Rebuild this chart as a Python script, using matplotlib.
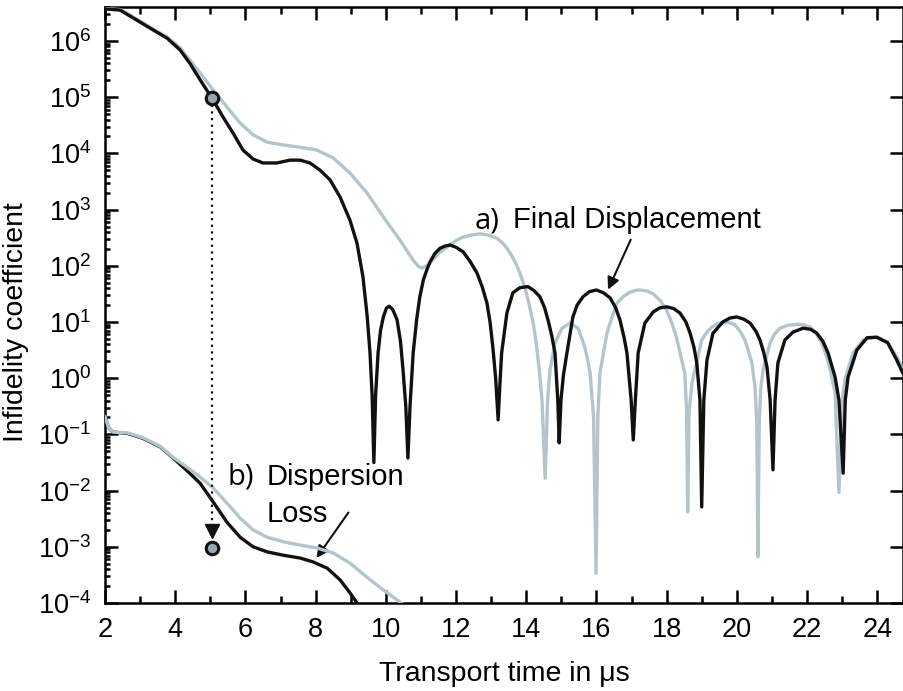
import numpy as np
import matplotlib
matplotlib.use("Agg")
import matplotlib.pyplot as plt
from matplotlib.ticker import MultipleLocator, LogLocator, NullFormatter

plt.rcParams['font.family'] = ['Liberation Sans', 'DejaVu Sans']
plt.rcParams['mathtext.fontset'] = 'custom'
plt.rcParams['mathtext.rm'] = 'Liberation Sans'
plt.rcParams['mathtext.it'] = 'Liberation Sans:italic'
plt.rcParams['axes.unicode_minus'] = False

# ---- data: transport time (microseconds) and log10 of infidelity coefficient ----
disp_black_t = [2.0, 2.43, 2.8, 3.28, 3.77, 4.14, 4.42, 4.71, 5.08, 5.36, 5.65, 5.93, 6.22, 6.5,
                6.9, 7.27, 7.56, 7.84, 8.13, 8.41, 8.7, 8.98, 9.18, 9.35, 9.47, 9.55, 9.61, 9.66,
                9.71, 9.78, 9.85, 9.93, 10.02, 10.1, 10.2, 10.32, 10.42, 10.49, 10.57, 10.63,
                10.69, 10.78, 10.88, 10.97, 11.07, 11.17, 11.26, 11.4, 11.54, 11.68, 11.83, 12.0,
                12.2, 12.4, 12.6, 12.75, 12.88, 12.97, 13.05, 13.13, 13.2, 13.26, 13.3, 13.45,
                13.62, 13.82, 14.05, 14.22, 14.39, 14.52, 14.62, 14.73, 14.82, 14.9, 14.94,
                14.99, 15.06, 15.16, 15.33, 15.45, 15.62, 15.8, 16.0, 16.2, 16.39, 16.55, 16.67,
                16.79, 16.87, 16.99, 17.05, 17.11, 17.19, 17.38, 17.62, 17.8, 18.0, 18.2, 18.38,
                18.55, 18.67, 18.78, 18.86, 18.95, 19.0, 19.06, 19.15, 19.32, 19.6, 19.8, 20.0,
                20.2, 20.38, 20.55, 20.66, 20.77, 20.86, 20.95, 21.03, 21.09, 21.17, 21.37, 21.6,
                21.89, 22.1, 22.28, 22.45, 22.6, 22.8, 22.91, 23.03, 23.09, 23.17, 23.42, 23.71,
                23.99, 24.3, 24.56, 24.73]
disp_black_log = [6.57, 6.55, 6.41, 6.23, 6.05, 5.84, 5.60, 5.31, 4.95, 4.65, 4.36, 4.06, 3.90,
                  3.83, 3.83, 3.88, 3.88, 3.83, 3.70, 3.53, 3.22, 2.81, 2.40, 1.80, 1.10, 0.45,
                  -0.30, -1.50, -0.30, 0.45, 0.85, 1.09, 1.25, 1.28, 1.22, 1.04, 0.65, 0.15, -0.50,
                  -1.42, -0.50, 0.45, 1.05, 1.45, 1.75, 1.93, 2.07, 2.22, 2.31, 2.35, 2.37, 2.33,
                  2.25, 2.08, 1.87, 1.62, 1.34, 1.00, 0.55, 0.00, -0.74, 0.00, 0.45, 1.16, 1.52,
                  1.61, 1.63, 1.56, 1.45, 1.26, 1.04, 0.75, 0.45, -0.39, -1.15, -0.39, 0.05, 0.45,
                  1.09, 1.30, 1.45, 1.54, 1.57, 1.52, 1.43, 1.25, 1.04, 0.72, 0.45, -0.39, -1.10,
                  -0.39, 0.45, 0.98, 1.18, 1.25, 1.27, 1.24, 1.16, 1.00, 0.80, 0.55, 0.27, -0.39,
                  -2.29, -0.39, 0.32, 0.80, 1.00, 1.07, 1.09, 1.05, 0.98, 0.83, 0.68, 0.45, 0.20,
                  -0.39, -1.63, -0.39, 0.27, 0.68, 0.82, 0.89, 0.87, 0.80, 0.66, 0.45, 0.02, -0.39,
                  -1.69, -0.39, 0.02, 0.50, 0.72, 0.73, 0.63, 0.32, 0.09]

disp_grey_t = [2.0, 2.43, 2.8, 3.05, 3.28, 3.52, 3.77, 4.14, 4.42, 4.71, 5.08, 5.47, 5.85, 6.22,
               6.62, 7.08, 7.56, 8.03, 8.5, 8.98, 9.46, 9.93, 10.4, 10.78, 10.93, 11.03, 11.13,
               11.26, 11.5, 11.74, 12.0, 12.2, 12.45, 12.68, 12.9, 13.17, 13.37, 13.54, 13.7,
               13.82, 13.97, 14.1, 14.21, 14.3, 14.38, 14.45, 14.54, 14.61, 14.68, 14.82, 15.02,
               15.25, 15.48, 15.67, 15.76, 15.82, 15.92, 15.99, 16.04, 16.1, 16.3, 16.45, 16.59,
               16.78, 16.96, 17.1, 17.24, 17.45, 17.62, 17.82, 18.0, 18.15, 18.28, 18.42, 18.52,
               18.57, 18.6, 18.64, 18.72, 18.81, 19.0, 19.15, 19.29, 19.45, 19.6, 19.78, 19.95,
               20.1, 20.23, 20.35, 20.43, 20.52, 20.57, 20.6, 20.64, 20.68, 20.75, 20.95, 21.08,
               21.23, 21.45, 21.72, 21.9, 22.09, 22.26, 22.42, 22.55, 22.66, 22.8, 22.91, 23.0,
               23.08, 23.31, 23.6, 23.94, 24.28, 24.56, 24.73]
disp_grey_log = [6.58, 6.56, 6.43, 6.34, 6.25, 6.16, 6.07, 5.88, 5.66, 5.43, 5.13, 4.83, 4.54,
                 4.33, 4.20, 4.15, 4.11, 4.06, 3.92, 3.65, 3.30, 2.87, 2.46, 2.10, 1.99, 1.96,
                 1.99, 2.05, 2.22, 2.33, 2.45, 2.51, 2.55, 2.57, 2.55, 2.49, 2.38, 2.23, 2.05,
                 1.87, 1.60, 1.27, 0.95, 0.55, 0.10, -0.39, -1.78, -0.39, 0.15, 0.63, 0.89, 0.98,
                 0.89, 0.55, 0.30, 0.09, -0.70, -3.47, -0.70, 0.09, 0.80, 1.10, 1.34, 1.46, 1.53,
                 1.56, 1.57, 1.55, 1.50, 1.38, 1.21, 0.98, 0.73, 0.35, 0.09, -0.60, -2.38, -0.60,
                 -0.10, 0.15, 0.68, 0.82, 0.91, 0.97, 1.00, 0.99, 0.95, 0.83, 0.68, 0.45, 0.27,
                 -0.16, -0.80, -3.18, -0.80, -0.20, 0.15, 0.63, 0.79, 0.89, 0.94, 0.96, 0.95, 0.91,
                 0.80, 0.63, 0.40, 0.15, -0.26, -2.03, -0.40, -0.03, 0.45, 0.68, 0.73, 0.65, 0.38,
                 0.15]

loss_black_t = [2.0, 2.1, 2.23, 2.63, 3.08, 3.57, 3.94, 4.33, 4.71, 5.08, 5.47, 5.85, 6.22, 6.62,
                7.08, 7.56, 7.93, 8.33, 8.7, 8.98, 9.18, 9.25]
loss_black_log = [-0.68, -0.88, -0.96, -0.98, -1.07, -1.22, -1.42, -1.64, -1.87, -2.20, -2.56,
                  -2.83, -3.00, -3.09, -3.15, -3.20, -3.27, -3.38, -3.59, -3.82, -4.00, -4.08]

loss_grey_t = [2.0, 2.1, 2.23, 2.63, 3.08, 3.57, 3.94, 4.33, 4.71, 5.08, 5.47, 5.85, 6.22, 6.62,
               7.08, 7.56, 8.03, 8.5, 8.98, 9.46, 9.93, 10.4, 10.5]
loss_grey_log = [-0.68, -0.88, -0.96, -0.97, -1.06, -1.21, -1.41, -1.58, -1.76, -1.95, -2.22,
                 -2.49, -2.70, -2.83, -2.91, -2.97, -3.02, -3.11, -3.29, -3.54, -3.77, -3.98, -4.03]

marker_t = 5.05
marker_top_log = 4.98
marker_bottom_log = -3.02
arrow_tip_log = -2.72

BLACK = '#111111'
GREY = '#b5c4c9'
MARK = '#9aa8ab'

fig = plt.figure(figsize=(9.04, 6.91), dpi=100)
ax = fig.add_axes([105/904, 88/691, 798/904, 596/691])
ax.set_yscale('log')

def p(v):
    return np.power(10.0, np.asarray(v, dtype=float))

kw = dict(lw=2.4, solid_joinstyle='round', solid_capstyle='round')
ax.plot(disp_grey_t, p(disp_grey_log), color=GREY, zorder=3, **kw)
ax.plot(disp_black_t, p(disp_black_log), color=BLACK, zorder=4, **kw)
ax.plot(loss_black_t, p(loss_black_log), color=BLACK, zorder=3, **kw)
ax.plot(loss_grey_t, p(loss_grey_log), color=GREY, zorder=4, **kw)

# dotted guide with arrow head and markers
ax.plot([marker_t, marker_t], p([marker_top_log, arrow_tip_log + 0.1]), color=BLACK,
        lw=1.6, ls=(0, (1, 2.0)), zorder=5)
ax.plot([marker_t], p([arrow_tip_log]), marker='v', color=BLACK, ms=10, ls='none', zorder=6)
ax.plot([marker_t], p([marker_top_log]), marker='o', mfc=MARK, mec=BLACK, mew=2.2, ms=9,
        ls='none', zorder=7)
ax.plot([marker_t], p([marker_bottom_log]), marker='o', mfc=MARK, mec=BLACK, mew=2.2, ms=9,
        ls='none', zorder=7)

# annotations
ax.text(12.54, p(2.67), 'a)', fontsize=21, family=['Open Sans', 'DejaVu Sans'], va='baseline')
ax.text(13.62, p(2.67), 'Final Displacement', fontsize=21, va='baseline')
ax.annotate('', xy=(16.3, p(1.53)), xytext=(17.01, p(2.51)),
            arrowprops=dict(arrowstyle='-|>', color=BLACK, lw=1.5, mutation_scale=18))
ax.text(5.5, p(-1.9), 'b)', fontsize=21, family=['Open Sans', 'DejaVu Sans'], va='baseline')
ax.text(6.61, p(-1.9), 'Dispersion', fontsize=21, va='baseline')
ax.text(6.61, p(-2.56), 'Loss', fontsize=21, va='baseline')
ax.annotate('', xy=(7.98, p(-3.24)), xytext=(8.98, p(-2.35)),
            arrowprops=dict(arrowstyle='-|>', color=BLACK, lw=1.5, mutation_scale=18))

ax.set_xlim(2, 24.735)
ax.set_ylim(1e-4, p(6.605))

ax.xaxis.set_major_locator(MultipleLocator(2))
ax.xaxis.set_minor_locator(MultipleLocator(1))
ax.yaxis.set_major_locator(LogLocator(base=10, numticks=20))
ax.yaxis.set_minor_locator(LogLocator(base=10, subs=np.arange(2, 10), numticks=20))
ax.yaxis.set_minor_formatter(NullFormatter())

ax.tick_params(which='both', direction='in', top=True, right=True, width=1.8, labelsize=19.5)
ax.tick_params(which='major', length=9.5)
ax.tick_params(axis='x', which='minor', length=5)
ax.tick_params(axis='y', which='minor', length=3.5, right=False)
ax.tick_params(axis='x', which='major', pad=10)
ax.tick_params(axis='y', which='major', pad=10)

for s in ax.spines.values():
    s.set_linewidth(1.8)

ax.set_xlabel('Transport time in μs', fontsize=20.5)
ax.set_ylabel('Infidelity coefficient', fontsize=20.5)
ax.xaxis.set_label_coords(0.5, -0.098)
ax.yaxis.set_label_coords(-0.095, 0.471)

fig.savefig('out.png', dpi=100)
